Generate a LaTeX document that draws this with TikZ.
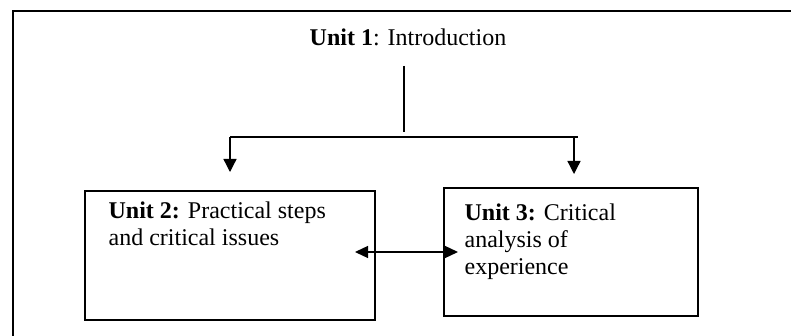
\documentclass[tikz,border=0pt]{standalone}
\usepackage{fontspec}
\setmainfont{Liberation Serif}
\usetikzlibrary{arrows.meta,positioning}

\begin{document}
\begin{tikzpicture}[
  x=0.5pt, y=-0.5pt,
  font=\fontsize{12}{13.5}\selectfont,
  >={Triangle[length=6.5pt,width=6.5pt]},
  % outer page frame
  frame/.style={draw=black, line width=1.1pt},
  % unit rectangle
  unitbox/.style={draw=black, line width=0.8pt, inner sep=0pt},
  % text inside a unit rectangle (base = last line)
  unittext/.style={align=left, inner sep=0pt, anchor=base west},
  % connectors
  line/.style={draw=black, line width=0.65pt},
  arr/.style={->, draw=black, line width=0.65pt},
  arrB/.style={<->, draw=black, line width=0.65pt,
               >={Triangle[length=6.5pt,width=6pt]}},
]
\clip (0,0) rectangle (791,336);

%% ── Frame ────────────────────────────────────────────────────────────────
\draw[frame] (13,11) rectangle (820,360);

%% ── Nodes ────────────────────────────────────────────────────────────────
\node[inner sep=0pt, anchor=base] (U1) at (408,46) {\textbf{Unit 1}: Introduction};
\node[unitbox, minimum width=145pt, minimum height=64.5pt] (U2) at (230,255.5) {};
\node[unitbox, minimum width=127pt, minimum height=64pt]   (U3) at (571,252) {};
\node[unittext, xshift=12pt, yshift=-27.5pt] (T2) at (U2.north west)
  {\textbf{Unit 2:} Practical steps\\and critical issues};
\node[unittext, xshift=10.5pt, yshift=-43.5pt] (T3) at (U3.north west)
  {\textbf{Unit 3:} Critical\\analysis of\\experience};

%% ── Branch points ────────────────────────────────────────────────────────
\coordinate (stemA) at (404,66);
\coordinate (stemB) at (404,132);
\coordinate (brL)   at (230,137);
\coordinate (brR)   at (574,137);
\coordinate (brEnd) at (578,137);
\coordinate (tipL)  at (230,172);
\coordinate (tipR)  at (574,174);
\coordinate (lnkL)  at (355,252);
\coordinate (lnkR)  at (458,252);

%% ── Connectors ───────────────────────────────────────────────────────────
\draw[line] (stemA) -- (stemB);
\draw[line] (brL) -- (brEnd);
\draw[arr]  (brL) -- (tipL);
\draw[arr]  (brR) -- (tipR);
\draw[arrB] (lnkL) -- (lnkR);

\end{tikzpicture}
\end{document}
